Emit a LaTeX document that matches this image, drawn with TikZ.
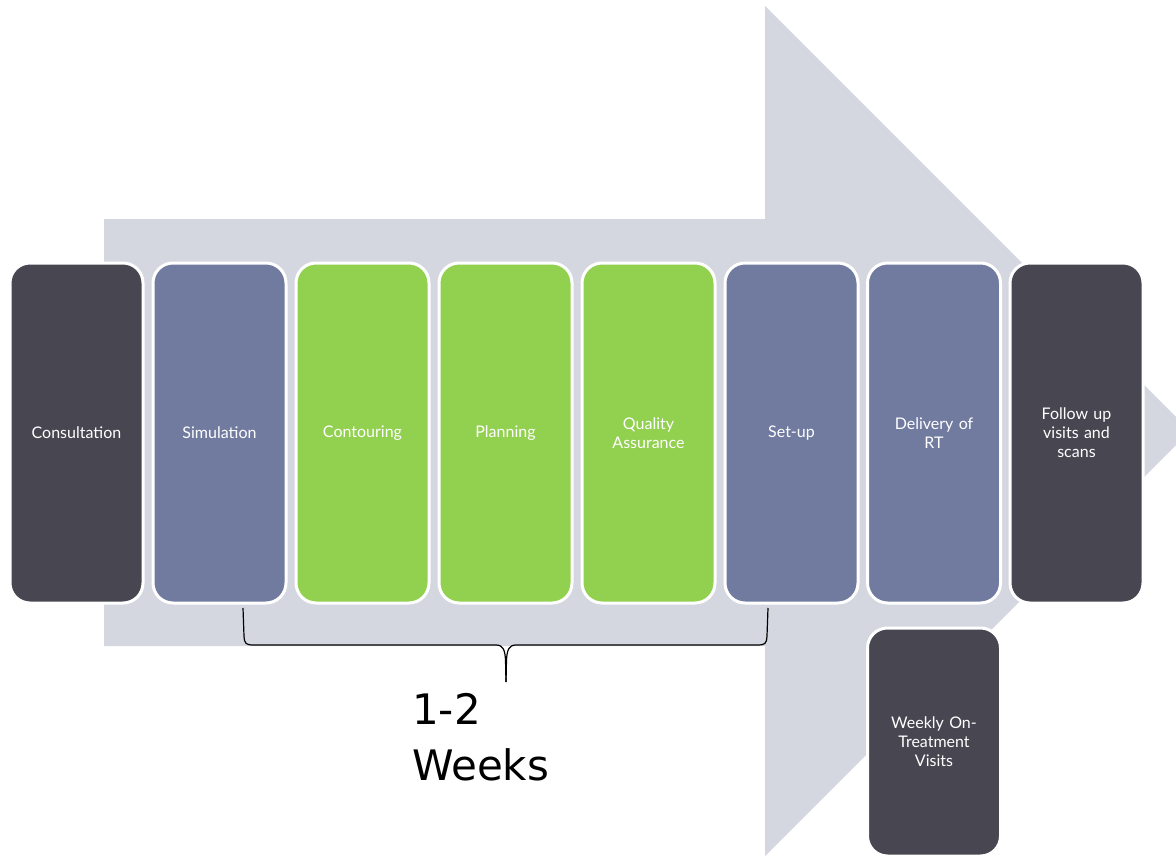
\documentclass[tikz,border=0pt]{standalone}
\usepackage{fontspec}
\setmainfont{Lato}
\newfontfamily\bigfont{DejaVu Sans}
\definecolor{arrowgray}{HTML}{D4D7E0}
\definecolor{darkbox}{HTML}{474651}
\definecolor{bluebox}{HTML}{717BA0}
\definecolor{greenbox}{HTML}{92D050}
\tikzset{
  stepbox/.style={rectangle, rounded corners=20pt, draw=white, line width=3pt,
    minimum width=133pt, minimum height=340pt, text width=110pt, align=center,
    text=white, font=\fontsize{16}{19}\selectfont, inner sep=0pt},
  darkstep/.style={stepbox, fill=darkbox},
  bluestep/.style={stepbox, fill=bluebox},
  greenstep/.style={stepbox, fill=greenbox},
  bigtext/.style={anchor=base west, inner sep=0pt, font=\bigfont\fontsize{42}{56}\selectfont},
}
\begin{document}
\begin{tikzpicture}[x=1pt,y=-1pt]
\useasboundingbox (0,0) rectangle (1176,856);
\begin{scope}
\clip (0,0) rectangle (1176,856);
\fill[arrowgray] (104,219) -- (765,219) -- (765,6) -- (1190,431) -- (765,856) -- (765,646) -- (104,646) -- cycle;
\end{scope}
\node[darkstep]  (cons) at (76.5,433) {Consultation};
\node[bluestep]  (sim)  at (219.5,433) {Simulation};
\node[greenstep] (cont) at (362.5,433) {Contouring};
\node[greenstep] (plan) at (505.5,433) {Planning};
\node[greenstep] (qa)   at (648.5,433) {Quality\\Assurance};
\node[bluestep]  (set)  at (791.5,433) {Set-up};
\node[bluestep]  (del)  at (934,433) {Delivery of\\RT};
\node[darkstep]  (fol)  at (1076.5,433) {Follow up\\visits and\\scans};
\node[darkstep, minimum height=228pt] (week) at (934,742) {Weekly On-\\Treatment\\Visits};
% brace
\coordinate (bl) at (243,608);
\coordinate (br) at (768,608);
\coordinate (bm) at (506,682);
\draw[black, line width=1.2pt]
  (bl) -- (244,636) .. controls (244.5,644) and (246,645) .. (254,645)
  -- (496,645) .. controls (503,645) and (505,650) .. (505.5,660) -- (bm);
\draw[black, line width=1.2pt]
  (br) -- (767,636) .. controls (766.5,644) and (765,645) .. (757,645)
  -- (516,645) .. controls (509,645) and (507,650) .. (506.5,660) -- (bm);
\node[bigtext] (wk1) at (412,724) {1-2};
\node[bigtext] (wk2) at (412,780) {Weeks};
\end{tikzpicture}
\end{document}
